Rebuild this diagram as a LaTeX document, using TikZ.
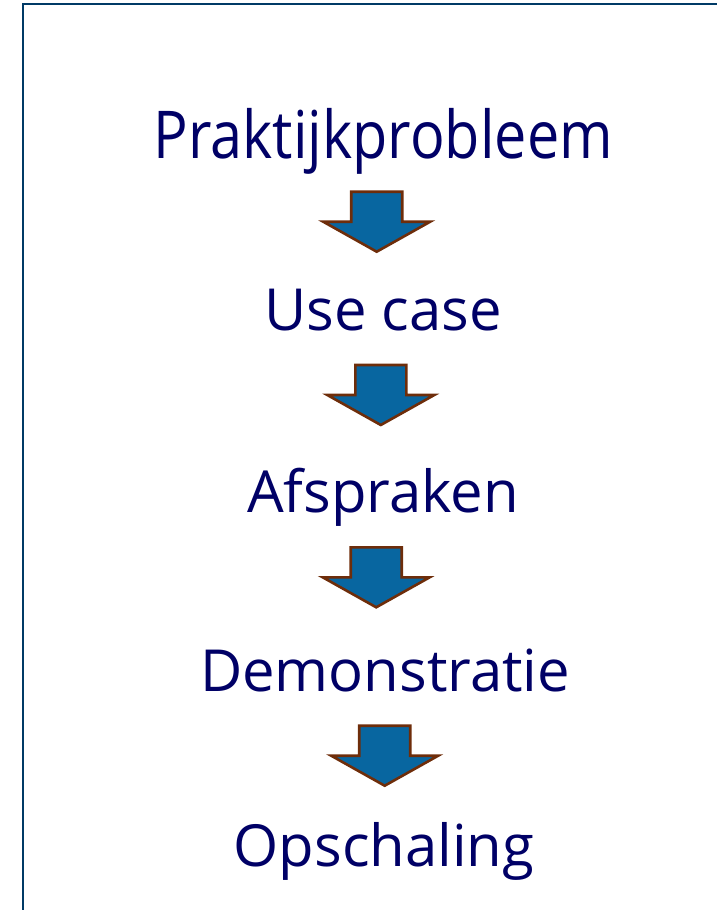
\documentclass[tikz,border=0pt]{standalone}
\usepackage{fontspec}
\usepackage{graphicx}
\setmainfont{Open Sans}
\definecolor{frameblue}{RGB}{0,58,102}
\definecolor{textnavy}{RGB}{0,0,102}
\definecolor{arrowfill}{RGB}{8,102,160}
\definecolor{arrowedge}{RGB}{110,45,10}
\tikzset{
  lbl/.style={anchor=base, inner sep=0pt, text=textnavy, font=\fontsize{58}{60}\selectfont},
  bigl/.style={lbl, font=\fontsize{66}{68}\selectfont},
  blockarrow/.style={fill=arrowfill, draw=arrowedge, line width=2.6pt, line join=miter},
  frameline/.style={draw=frameblue, line width=2.2pt},
  pics/downarrow/.style={code={
    \path[blockarrow] (-25.5,0) -- (25.5,0) -- (25.5,30) -- (53.5,30) -- (0,60) -- (-53.5,30) -- (-25.5,30) -- cycle;
  }}
}
\begin{document}
\begin{tikzpicture}[x=1pt,y=-1pt]
\useasboundingbox (0,0) rectangle (717,910);
\path[frameline] (23,912) -- (23,4) -- (719,4);
\node[bigl] (p1) at (383.3,158.5) {\scalebox{0.872}[1]{Praktijkprobleem}};
\node[lbl] (p2) at (383.3,330) {Use case};
\node[lbl] (p3) at (383,512) {Afspraken};
\node[lbl] (p4) at (385,691.7) {Demonstratie};
\node[lbl] (p5) at (384,866.7) {Opschaling};
\pic at (376.7,191.7) {downarrow};
\pic at (380.8,365) {downarrow};
\pic at (376.2,547.3) {downarrow};
\pic at (384.7,725.7) {downarrow};
\end{tikzpicture}
\end{document}
